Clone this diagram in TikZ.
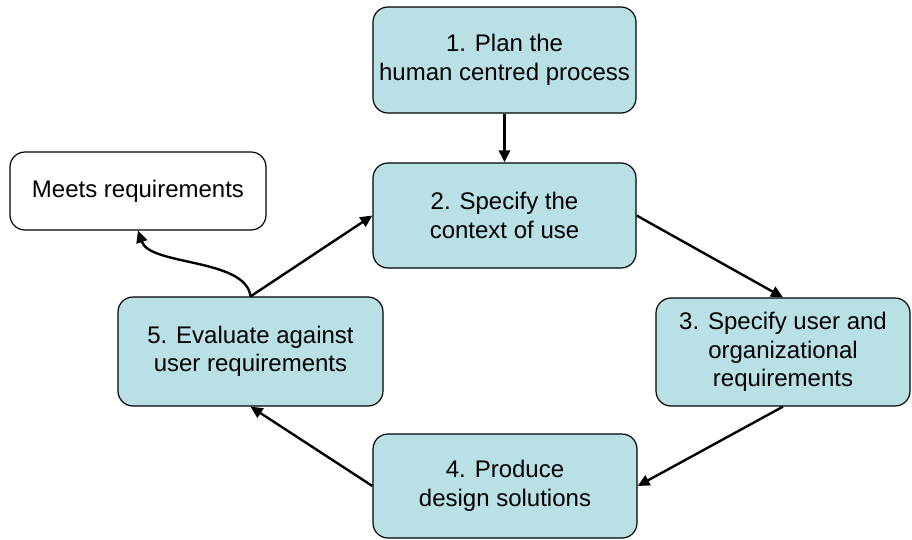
\documentclass[tikz,border=0pt]{standalone}
\usepackage{fontspec}
\setmainfont{Liberation Sans}
\usetikzlibrary{arrows.meta}
\definecolor{stagefill}{HTML}{B9E0E4}
\tikzset{
  stagebox/.style={draw=black, line width=1.2pt, fill=stagefill, rounded corners=15pt,
    align=center, inner sep=0pt, font=\fontsize{24}{28.5}\selectfont},
  plainbox/.style={stagebox, fill=white},
  flow/.style={line width=2.4pt, -{Triangle[length=12pt,width=11pt]}},
  boldflow/.style={flow, line width=3.4pt}
}
\begin{document}
\begin{tikzpicture}[x=1pt,y=-1pt]
\useasboundingbox (0,0) rectangle (912,539);
% process stages
\node[stagebox, minimum width=263pt, minimum height=106pt] (s1) at (504.5,60)
  {1. Plan the\\human centred process};
\node[stagebox, minimum width=263pt, minimum height=105pt] (s2) at (504.5,215.5)
  {2. Specify the\\context of use};
\node[stagebox, minimum width=254pt, minimum height=108pt] (s3) at (783,352)
  {3. Specify user and\\organizational\\requirements};
\node[stagebox, minimum width=264pt, minimum height=104pt] (s4) at (505,486)
  {4. Produce\\design solutions};
\node[stagebox, minimum width=265pt, minimum height=109pt] (s5) at (250.5,351.5)
  {5. Evaluate against\\user requirements};
\node[plainbox, minimum width=256pt, minimum height=78pt] (done) at (138,191)
  {Meets requirements};
% connectors
\draw[boldflow] (s1.south) -- (s2.north);
\draw[flow] (s2.east) -- (s3.north);
\draw[flow] (s3.south) -- (s4.east);
\draw[flow] (s4.west) -- (s5.south);
\draw[flow] (s5.north) -- (s2.west);
\draw[flow] (s5.north) .. controls (246,258) and (150,266) .. (done.south);
\end{tikzpicture}
\end{document}
